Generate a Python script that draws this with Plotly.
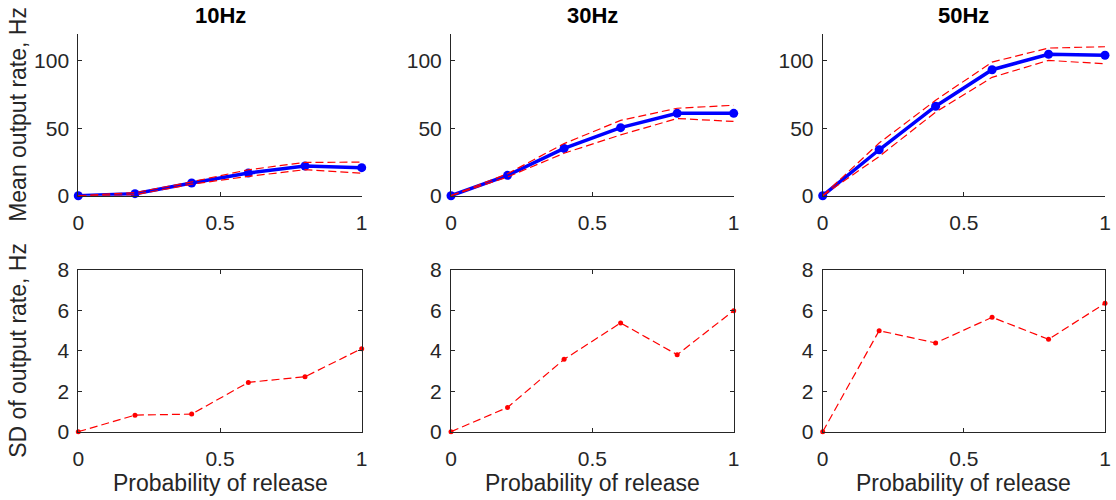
import plotly.graph_objects as go

p_release = [0, 0.2, 0.4, 0.6, 0.8, 1.0]
titles = ["10Hz", "30Hz", "50Hz"]
mean_10 = [0, 1.5, 9.4, 16.8, 22.0, 20.8]
mean_30 = [0, 15.1, 35.1, 50.5, 61.1, 61.1]
mean_50 = [0, 34.1, 66.4, 93.5, 105.0, 104.2]
sd_10 = [0, 0.82, 0.87, 2.44, 2.72, 4.11]
sd_30 = [0, 1.2, 3.58, 5.38, 3.81, 5.99]
sd_50 = [0, 5.0, 4.39, 5.66, 4.57, 6.35]
x_ticks = [0, 0.5, 1]
mean_ticks = [0, 50, 100]
sd_ticks = [0, 2, 4, 6, 8]

means = [mean_10, mean_30, mean_50]
sds = [sd_10, sd_30, sd_50]

W, H = 1116, 500
FONT = "Liberation Sans, Arial, sans-serif"
AX = "#262626"
TICK = 21
LAB = 23

xdoms = [(78.3, 361.7), (451.0, 733.7), (822.7, 1105.0)]
top_dom = (34.0, 195.7)
bot_dom = (270.0, 431.7)

fig = go.Figure()
layout = dict(
    width=W, height=H, margin=dict(l=0, r=0, t=0, b=0, autoexpand=False),
    plot_bgcolor="white", paper_bgcolor="white",
    showlegend=False, font=dict(family=FONT, color=AX, size=TICK),
)

annotations = []
for i in range(3):
    xd = [xdoms[i][0] / W, xdoms[i][1] / W]
    t = 2 * i + 1
    b = 2 * i + 2
    ts = "" if t == 1 else str(t)
    xa_t, ya_t = f"xaxis{ts}", f"yaxis{ts}"
    xa_b, ya_b = f"xaxis{b}", f"yaxis{b}"
    xr_t, yr_t = f"x{ts}", f"y{ts}"
    xr_b, yr_b = f"x{b}", f"y{b}"

    common_x = dict(range=[0, 1], tickvals=x_ticks, ticktext=["0", "0.5", "1"],
                    showgrid=False, zeroline=False, showline=True, linecolor=AX,
                    linewidth=1, ticks="inside", ticklen=4, tickcolor=AX,
                    automargin=False, ticklabelstandoff=8,
                    tickfont=dict(size=TICK, color=AX, family=FONT))
    common_y = dict(showgrid=False, zeroline=False, showline=True, linecolor=AX,
                    linewidth=1, ticks="inside", ticklen=4, tickcolor=AX,
                    automargin=False, ticklabelstandoff=4,
                    tickfont=dict(size=TICK, color=AX, family=FONT))

    layout[xa_t] = dict(domain=xd, anchor=yr_t, mirror=False, **common_x)
    layout[ya_t] = dict(domain=[1 - top_dom[1] / H, 1 - top_dom[0] / H], anchor=xr_t,
                        range=[0, 120], tickvals=mean_ticks, mirror=False, **common_y)
    layout[xa_b] = dict(domain=xd, anchor=yr_b, mirror="ticks", **common_x)
    layout[ya_b] = dict(domain=[1 - bot_dom[1] / H, 1 - bot_dom[0] / H], anchor=xr_b,
                        range=[0, 8], tickvals=sd_ticks, mirror="ticks", **common_y)

    m = means[i]
    s = sds[i]
    upper = [a + d for a, d in zip(m, s)]
    lower = [a - d for a, d in zip(m, s)]

    fig.add_trace(go.Scatter(x=p_release, y=m, mode="lines+markers", xaxis=xr_t, yaxis=yr_t,
                             line=dict(color="#0000ff", width=3.5),
                             marker=dict(color="#0000ff", size=9, symbol="circle"),
                             cliponaxis=False))
    for band in (upper, lower):
        fig.add_trace(go.Scatter(x=p_release, y=band, mode="lines", xaxis=xr_t, yaxis=yr_t,
                                 line=dict(color="#ff0000", width=1.2, dash="8px,4px"),
                                 cliponaxis=False))
    fig.add_trace(go.Scatter(x=p_release, y=s, mode="lines+markers", xaxis=xr_b, yaxis=yr_b,
                             line=dict(color="#ff0000", width=1.2, dash="8px,4px"),
                             marker=dict(color="#ff0000", size=5),
                             cliponaxis=False))

    cx = (xdoms[i][0] + xdoms[i][1]) / 2 / W
    annotations.append(dict(text=f"<b>{titles[i]}</b>", x=cx, y=1 - 15 / H, xref="paper", yref="paper",
                            showarrow=False, xanchor="center", yanchor="middle",
                            font=dict(size=22, color="#000000", family=FONT)))
    annotations.append(dict(text="Probability of release", x=cx, y=1 - 483 / H, xref="paper", yref="paper",
                            showarrow=False, xanchor="center", yanchor="middle",
                            font=dict(size=LAB, color=AX, family=FONT)))

annotations.append(dict(text="Mean output rate, Hz", x=18 / W, y=1 - (top_dom[0] + top_dom[1]) / 2 / H,
                        xref="paper", yref="paper", showarrow=False, textangle=-90,
                        xanchor="center", yanchor="middle", font=dict(size=LAB, color=AX, family=FONT)))
annotations.append(dict(text="SD of output rate, Hz", x=18 / W, y=1 - (bot_dom[0] + bot_dom[1]) / 2 / H,
                        xref="paper", yref="paper", showarrow=False, textangle=-90,
                        xanchor="center", yanchor="middle", font=dict(size=LAB, color=AX, family=FONT)))
layout["annotations"] = annotations

fig.update_layout(**layout)
fig.write_html("out.html")
